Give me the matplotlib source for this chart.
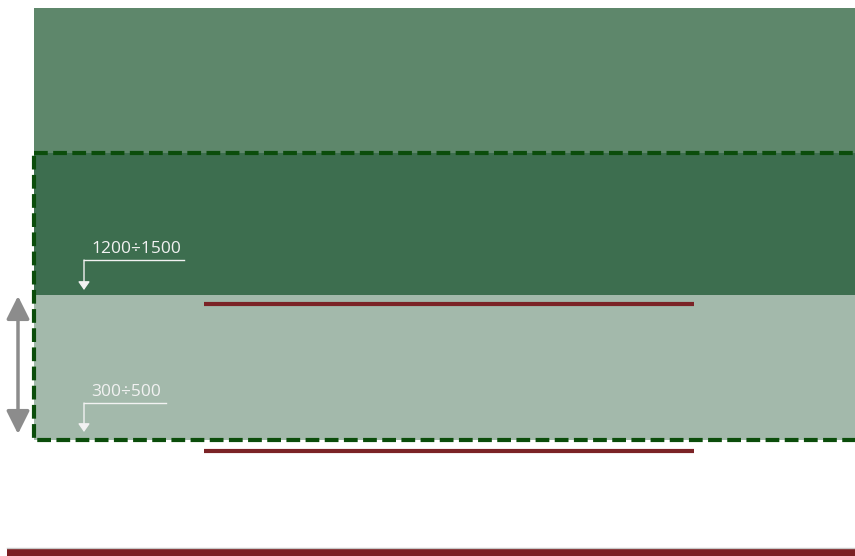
import matplotlib
matplotlib.use("Agg")
import matplotlib.pyplot as plt
from matplotlib.patches import Rectangle, FancyArrowPatch

# Layer data (diagram units = pixels, y downward)
layer_tops = [8, 153, 295]
layer_bottoms = [153, 295, 440]
layer_colors = ["#5e876b", "#3d6e4f", "#a3b9ab"]
layer_left = 34
layer_right = 860

labels = ["1200÷1500", "300÷500"]
label_arrow_x = [84, 84]
label_text_y = [249, 392]
label_underline_end = [184, 166]
label_arrow_tip = [290, 432]

red_lines_y = [304, 451]
red_lines_x = [204, 694]

fig = plt.figure(figsize=(8.55, 5.56), dpi=100)
ax = fig.add_axes([0, 0, 1, 1])
ax.set_xlim(0, 855)
ax.set_ylim(556, 0)
ax.axis("off")

for top, bot, col in zip(layer_tops, layer_bottoms, layer_colors):
    ax.add_patch(Rectangle((layer_left, top), layer_right - layer_left, bot - top,
                           facecolor=col, edgecolor="none", zorder=1))

# dashed rectangle
ax.add_patch(Rectangle((layer_left, layer_tops[1]), layer_right + 20 - layer_left,
                       layer_bottoms[2] - layer_tops[1], facecolor="none",
                       edgecolor="#0b4d0b", linewidth=3, linestyle=(0, (3.3, 1.3)),
                       zorder=3))

# red lines
for y in red_lines_y:
    ax.plot(red_lines_x, [y, y], color="#7b2326", linewidth=3, solid_capstyle="butt", zorder=2)

# bottom red bar
ax.add_patch(Rectangle((7, 548), 860, 10, facecolor="#7b1f22", edgecolor="none", zorder=2))
ax.plot([7, 855], [547.5, 547.5], color="#c8c8c8", linewidth=1, zorder=2)

# gray double arrow
ax.add_patch(FancyArrowPatch((18, 296), (18, 434), arrowstyle="<|-|>,head_length=14,head_width=7",
                             mutation_scale=1, color="#8c8c8c", linewidth=2.5, zorder=4,
                             shrinkA=0, shrinkB=0))

# labels with leader arrows
for lab, x, ty, ux, tip in zip(labels, label_arrow_x, label_text_y, label_underline_end, label_arrow_tip):
    ax.text(x + 7, ty, lab, color="#f2f2f2", fontsize=12.5, family="Open Sans",
            ha="left", va="center", zorder=5)
    ax.plot([ux, x], [ty + 11, ty + 11], color="#f2f2f2", linewidth=1, zorder=5)
    ax.add_patch(FancyArrowPatch((x, ty + 11), (x, tip), arrowstyle="-|>,head_length=5,head_width=3.5",
                                 mutation_scale=1, color="#f2f2f2", linewidth=1, zorder=5,
                                 shrinkA=0, shrinkB=0))

fig.savefig("out.png", dpi=100)
